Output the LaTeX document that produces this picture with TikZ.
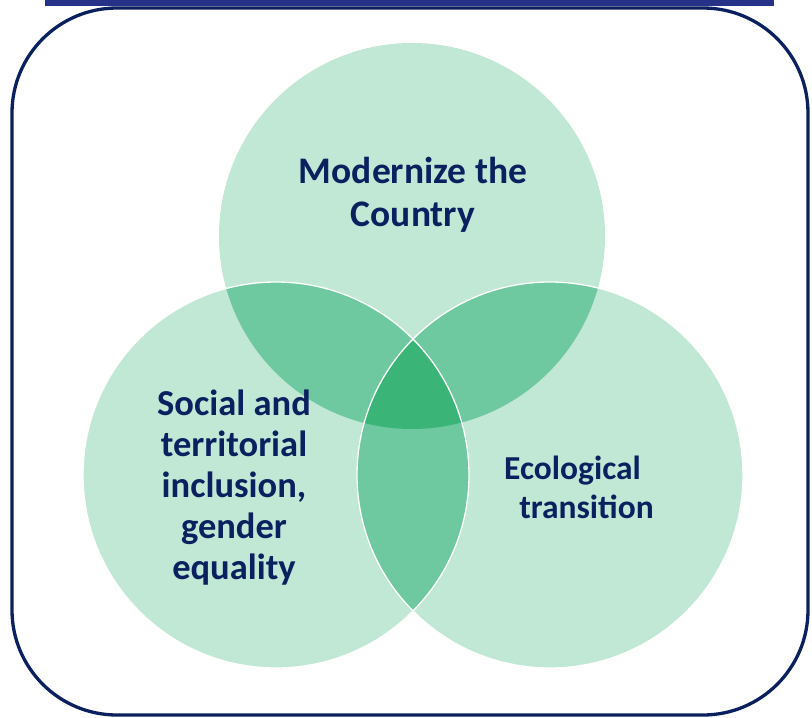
\documentclass[tikz,border=0pt]{standalone}
\usepackage{fontspec}
\setmainfont{Carlito}
\definecolor{lightg}{HTML}{C1E7D5}
\definecolor{midg}{HTML}{6FC9A0}
\definecolor{darkg}{HTML}{3BB577}
\definecolor{navy}{HTML}{0B215F}
\definecolor{barblue}{HTML}{263287}
\begin{document}
\begin{tikzpicture}[x=1pt,y=-1pt,
  lbl/.style={text=navy,font=\bfseries\fontsize{37.5}{43}\selectfont,align=center,inner sep=0pt}]
\useasboundingbox (0,0) rectangle (812,718);
\fill[white] (0,0) rectangle (812,718);
% top bar
\fill[barblue] (45,0) rectangle (774,6);
% frame
\draw[navy,line width=3.3pt,rounded corners=105pt] (12,8) rectangle (808,715);
% circles
\coordinate (ct) at (412,236);
\coordinate (cl) at (276,475);
\coordinate (cr) at (550,475);
\fill[lightg] (ct) circle[radius=193];
\fill[lightg] (cl) circle[radius=193];
\fill[lightg] (cr) circle[radius=193];
\begin{scope}
  \clip (ct) circle[radius=193];
  \fill[midg] (cl) circle[radius=193];
  \fill[midg] (cr) circle[radius=193];
\end{scope}
\begin{scope}
  \clip (cl) circle[radius=193];
  \fill[midg] (cr) circle[radius=193];
\end{scope}
\begin{scope}
  \clip (ct) circle[radius=193];
  \clip (cl) circle[radius=193];
  \fill[darkg] (cr) circle[radius=193];
\end{scope}
\draw[white,line width=1.3pt] (cr) circle[radius=193];
\draw[white,line width=1.3pt] (cl) circle[radius=193];
% labels
\node[lbl] (mod) at (413,195) {Modernize the\\Country};
\node[lbl,font=\bfseries\fontsize{36.5}{41}\selectfont] (soc) at (234,488) {Social and\\territorial\\inclusion,\\gender\\equality};
\node[lbl,font=\bfseries\fontsize{33.5}{39}\selectfont] (eco) at (572.5,487) {Ecological\\\hspace*{28pt}transition};
\end{tikzpicture}
\end{document}
